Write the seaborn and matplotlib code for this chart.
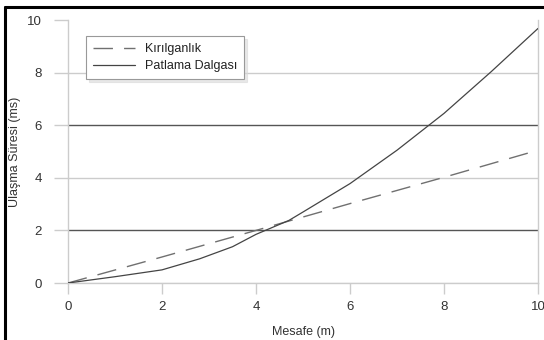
import pandas as pd
import matplotlib.pyplot as plt
import seaborn as sns
from matplotlib.lines import Line2D

# Values
mesafe = [0, 1, 2, 2.8, 3.5, 4, 4.7, 5, 6, 7, 8, 9, 10]
patlama = [0, 0.24, 0.5, 0.92, 1.38, 1.85, 2.38, 2.7, 3.78, 5.05, 6.45, 8.03, 9.68]
kirilgan_x = [0, 2, 4, 6, 8, 10]
kirilgan = [0, 0.99, 2.0, 3.02, 4.02, 5.05]

ticks = [0, 2, 4, 6, 8, 10]
tick_labels = ['0', '2', '4', '6', '8', '10']
grid_colors = ['#dddddd', '#555555', '#cccccc', '#555555', '#cccccc']

sns.set_style('white')
plt.rcParams['font.family'] = ['Liberation Sans', 'DejaVu Sans']

fig = plt.figure(figsize=(5.44, 3.4), dpi=100)
ax = fig.add_axes([0.125, 0.1676, 0.864, 0.7735])

# horizontal grid lines (some darker than others in the original)
for v, c in zip(ticks[:-1], grid_colors):
    ax.axhline(v, color=c, lw=1.0, zorder=1)

df_k = pd.DataFrame({'x': kirilgan_x, 'y': kirilgan})
df_p = pd.DataFrame({'x': mesafe, 'y': patlama})

sns.lineplot(data=df_k, x='x', y='y', ax=ax, color='#707070', lw=1.0,
             linestyle=(0, (14, 8)), label='Kırılganlık', zorder=3)
sns.lineplot(data=df_p, x='x', y='y', ax=ax, color='#444444', lw=0.9,
             label='Patlama Dalgası', zorder=3)

ax.set_xlim(0, 10)
ax.set_ylim(0, 10)
ax.set_xticks(ticks)
ax.set_xticklabels(tick_labels)
ax.set_yticks(ticks)
ax.set_yticklabels(tick_labels)

ax.spines['top'].set_visible(False)
for side in ['left', 'right', 'bottom']:
    ax.spines[side].set_color('#cccccc')
    ax.spines[side].set_linewidth(1.0)

ax.tick_params(axis='both', which='major', labelsize=9.5, labelcolor='#333333',
               color='#cccccc', width=1.0)
ax.tick_params(axis='y', length=10, pad=9, left=True)
ax.tick_params(axis='x', length=8, pad=5, bottom=True)
for i, t in enumerate(ax.yaxis.get_major_ticks()):
    if i < len(grid_colors):
        t.tick1line.set_color(grid_colors[i])

ax.set_xlabel('Mesafe (m)', fontsize=9, color='#333333')
ax.set_ylabel('Ulaşma Süresi (ms)', fontsize=9, color='#333333')
ax.xaxis.set_label_coords(0.5, -0.165)
ax.yaxis.set_label_coords(-0.10, 0.5)

leg = ax.legend(loc='upper left', bbox_to_anchor=(0.038, 0.939), borderaxespad=0,
                fontsize=9, frameon=True, fancybox=False, handlelength=3.4,
                handletextpad=0.8, labelspacing=0.4, borderpad=0.55,
                shadow={'color': '0.85', 'alpha': 0.6})
leg.get_frame().set_edgecolor('#999999')
leg.get_frame().set_linewidth(0.8)
for txt in leg.get_texts():
    txt.set_color('#222222')

# black frame around the picture (only left and top edges visible)
fig.add_artist(Line2D([0.0092, 0.0092], [0, 0.979], color='black', lw=2.2,
                      transform=fig.transFigure))
fig.add_artist(Line2D([0.0092, 1.0], [0.979, 0.979], color='black', lw=2.2,
                      transform=fig.transFigure))

fig.savefig('out.png', dpi=100)
